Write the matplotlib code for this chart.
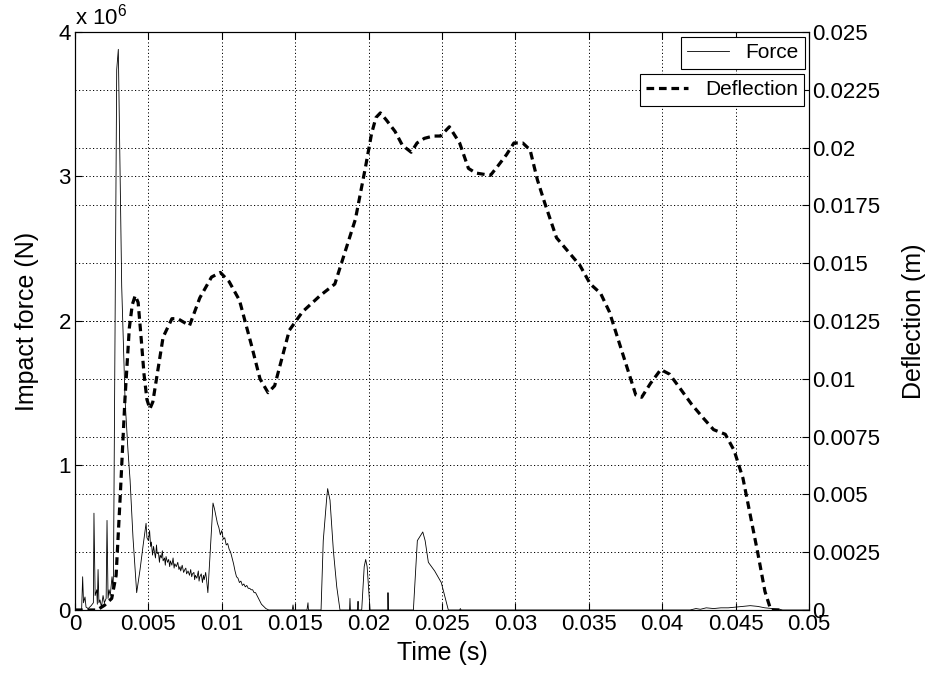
import matplotlib
matplotlib.use("Agg")
import matplotlib.pyplot as plt
from matplotlib.ticker import MultipleLocator, FuncFormatter

# ====================================================
# DATA
# ====================================================

# time (s) and impact force (x 1e6 N)
force_t = [
    0.0, 0.00045, 0.00052, 0.00058, 0.00068, 0.00075, 0.0009, 0.0011,
    0.00125, 0.00129, 0.00137, 0.00148, 0.00152, 0.00157, 0.00163, 0.0017,
    0.0018, 0.00191, 0.0020, 0.00212, 0.00218, 0.00225, 0.00232, 0.0024,
    0.00252, 0.00258, 0.00262, 0.00266, 0.00284, 0.00295, 0.00307, 0.00318,
    0.00341, 0.00361, 0.00375, 0.00395, 0.0042, 0.00443, 0.00463, 0.00484,
    0.0049, 0.0050, 0.00508, 0.00515, 0.0052, 0.00528, 0.00535, 0.0054,
    0.00548, 0.00555, 0.0056, 0.00568, 0.00575, 0.0058, 0.00588, 0.00595,
    0.0060, 0.0061, 0.00615, 0.0062, 0.0063, 0.00638, 0.00645, 0.0065,
    0.0066, 0.00668, 0.00675, 0.0068, 0.0069, 0.0070, 0.00708, 0.00715,
    0.0072, 0.0073, 0.0074, 0.00748, 0.00755, 0.0076, 0.0077, 0.0078,
    0.00788, 0.00795, 0.0080, 0.0081, 0.00815, 0.0082, 0.0083, 0.0084,
    0.00845, 0.0085, 0.0086, 0.00868, 0.00875, 0.0088, 0.0089, 0.00895,
    0.00905, 0.0094, 0.0095, 0.0096, 0.0097, 0.0098, 0.0099, 0.0100,
    0.0101, 0.0102, 0.0103, 0.0104, 0.0105, 0.0106, 0.0107, 0.0108,
    0.0109, 0.0110, 0.0111, 0.0112, 0.0113, 0.0114, 0.0115, 0.0116,
    0.0117, 0.0118, 0.0119, 0.0120, 0.0121, 0.0122, 0.0123, 0.0124,
    0.0125, 0.0126, 0.0127, 0.0128, 0.0129, 0.0130, 0.0132, 0.0148,
    0.01485, 0.0149, 0.0158, 0.01587, 0.0159, 0.01676, 0.01691, 0.01715,
    0.01721, 0.01737, 0.0176, 0.01783, 0.01805, 0.0187, 0.01873, 0.01876,
    0.01925, 0.01928, 0.0193, 0.01953, 0.0197, 0.0198, 0.0199, 0.0201,
    0.0213, 0.02132, 0.02135, 0.02305, 0.02332, 0.02369, 0.02385, 0.02407,
    0.0245, 0.02495, 0.02543, 0.0262, 0.02625, 0.0263, 0.0419, 0.0423,
    0.0426, 0.0430, 0.0435, 0.0440, 0.0445, 0.0450, 0.0455, 0.0460,
    0.0465, 0.0470, 0.0475, 0.0480, 0.0482, 0.050,
]

force_mn = [
    0.0, 0.0, 0.23, 0.05, 0.09, 0.02, 0.01, 0.03,
    0.05, 0.67, 0.10, 0.14, 0.04, 0.28, 0.05, 0.07,
    0.02, 0.10, 0.05, 0.08, 0.62, 0.08, 0.14, 0.10,
    0.23, 0.15, 0.25, 0.90, 3.74, 3.88, 3.00, 2.24,
    1.45, 1.10, 0.90, 0.50, 0.12, 0.28, 0.44, 0.60,
    0.50, 0.48, 0.55, 0.44, 0.47, 0.38, 0.44, 0.41,
    0.36, 0.45, 0.39, 0.40, 0.33, 0.38, 0.36, 0.41,
    0.34, 0.36, 0.31, 0.37, 0.33, 0.35, 0.30, 0.34,
    0.31, 0.36, 0.29, 0.32, 0.30, 0.33, 0.28, 0.30,
    0.27, 0.31, 0.26, 0.28, 0.29, 0.25, 0.27, 0.24,
    0.28, 0.23, 0.25, 0.26, 0.21, 0.24, 0.22, 0.27,
    0.20, 0.23, 0.25, 0.19, 0.24, 0.21, 0.26, 0.22,
    0.12, 0.74, 0.70, 0.65, 0.60, 0.57, 0.52, 0.55,
    0.49, 0.50, 0.45, 0.46, 0.42, 0.40, 0.36, 0.32,
    0.27, 0.23, 0.22, 0.19, 0.20, 0.17, 0.18, 0.16,
    0.17, 0.15, 0.15, 0.14, 0.14, 0.12, 0.12, 0.10,
    0.08, 0.06, 0.04, 0.03, 0.02, 0.01, 0.0, 0.0,
    0.035, 0.0, 0.0, 0.05, 0.0, 0.0, 0.48, 0.78,
    0.84, 0.76, 0.41, 0.16, 0.0, 0.0, 0.08, 0.0,
    0.0, 0.06, 0.0, 0.0, 0.30, 0.35, 0.30, 0.0,
    0.0, 0.12, 0.0, 0.0, 0.48, 0.54, 0.48, 0.33,
    0.27, 0.19, 0.0, 0.0, 0.01, 0.0, 0.0, 0.01,
    0.005, 0.015, 0.01, 0.015, 0.015, 0.02, 0.025, 0.03,
    0.025, 0.015, 0.01, 0.005, 0.0, 0.0,
]

# time (s) and deflection (m)
defl_t = [
    0.0, 0.0015, 0.0020, 0.0025, 0.0028, 0.00307, 0.0034, 0.0037,
    0.0039, 0.0041, 0.0043, 0.0045, 0.0047, 0.0049, 0.0051, 0.0053,
    0.0055, 0.0060, 0.0066, 0.0070, 0.0078, 0.0085, 0.0093, 0.0099,
    0.0105, 0.0112, 0.0120, 0.0126, 0.01315, 0.0136, 0.0141, 0.0146,
    0.0155, 0.0167, 0.0177, 0.0184, 0.0191, 0.0198, 0.0202, 0.0205,
    0.0208, 0.0212, 0.0218, 0.0223, 0.0229, 0.0233, 0.0238, 0.0244,
    0.0249, 0.0255, 0.0262, 0.0268, 0.0273, 0.0283, 0.0288, 0.0294,
    0.0299, 0.0305, 0.0310, 0.0315, 0.0320, 0.0328, 0.0336, 0.0344,
    0.0351, 0.0358, 0.0364, 0.0370, 0.0377, 0.0382, 0.0386, 0.0392,
    0.0399, 0.0405, 0.0412, 0.0420, 0.0428, 0.0435, 0.0443, 0.0449,
    0.0455, 0.0460, 0.0465, 0.0470, 0.0474, 0.0480,
]

defl_m = [
    0.0, 0.0, 0.0002, 0.0005, 0.0015, 0.0048, 0.0091, 0.0122,
    0.0132, 0.0136, 0.0133, 0.0118, 0.0102, 0.0091, 0.0087, 0.0090,
    0.0098, 0.0118, 0.0126, 0.0126, 0.0123, 0.0135, 0.0144, 0.0146,
    0.0142, 0.0134, 0.0115, 0.0100, 0.0094, 0.0097, 0.0109, 0.0121,
    0.0129, 0.0136, 0.0141, 0.0155, 0.0169, 0.0192, 0.0206, 0.0213,
    0.0215, 0.0212, 0.0207, 0.0201, 0.0198, 0.0202, 0.0204, 0.0205,
    0.0205, 0.0209, 0.0202, 0.0191, 0.0189, 0.0188, 0.0192, 0.0197,
    0.0202, 0.0202, 0.0199, 0.0186, 0.0176, 0.0161, 0.0155, 0.0149,
    0.0141, 0.0137, 0.0129, 0.0117, 0.0103, 0.0093, 0.0092, 0.0098,
    0.0104, 0.0102, 0.0096, 0.0089, 0.0083, 0.0078, 0.0076, 0.0069,
    0.0057, 0.0041, 0.0025, 0.0008, 0.0, 0.0,
]

# ====================================================
# STYLE
# ====================================================

plt.rcParams["font.family"] = ["Liberation Sans", "DejaVu Sans"]
plt.rcParams["font.size"] = 16
plt.rcParams["mathtext.fontset"] = "custom"
plt.rcParams["mathtext.rm"] = "Liberation Sans"

fig = plt.figure(figsize=(9.25, 6.75), dpi=100)
ax1 = fig.add_axes([0.0811, 0.0963, 0.7935, 0.8563])
ax2 = ax1.twinx()

# ====================================================
# CURVES
# ====================================================

force_line, = ax1.plot(
    force_t, [v * 1e6 for v in force_mn],
    color="black", linewidth=0.6, label="Force"
)

defl_line, = ax2.plot(
    defl_t, defl_m,
    color="black", linewidth=2.3, dashes=(2.4, 1.5), label="Deflection"
)

# ====================================================
# AXES
# ====================================================

fmt_g = FuncFormatter(lambda v, p: "%g" % v)

ax1.set_xlim(0, 0.05)
ax1.set_ylim(0, 4e6)
ax2.set_ylim(0, 0.025)

ax1.xaxis.set_major_locator(MultipleLocator(0.005))
ax1.xaxis.set_major_formatter(fmt_g)
ax1.yaxis.set_major_locator(MultipleLocator(1e6))
ax1.yaxis.set_major_formatter(FuncFormatter(lambda v, p: "%g" % (v / 1e6)))

ax2.yaxis.set_major_locator(MultipleLocator(0.0025))
ax2.yaxis.set_major_formatter(fmt_g)

ax1.tick_params(axis="both", direction="in", length=5, width=0.8,
                labelsize=16, top=True, pad=3)
ax2.tick_params(axis="y", direction="in", length=5, width=0.8,
                labelsize=16, pad=2)

ax1.text(0.0, 1.004, r"x 10$^{\mathrm{6}}$", transform=ax1.transAxes,
         ha="left", va="bottom", fontsize=16)

grid_kw = dict(color="black", linestyle=(0, (1.2, 2.4)), linewidth=0.7)
ax1.grid(True, **grid_kw)
ax2.yaxis.grid(True, **grid_kw)

for ax in (ax1, ax2):
    for s in ax.spines.values():
        s.set_linewidth(0.8)

ax1.set_xlabel("Time (s)", fontsize=18, labelpad=4)
ax1.set_ylabel("Impact force (N)", fontsize=18, labelpad=14)
ax2.set_ylabel("Deflection (m)", fontsize=18, labelpad=16)

# ====================================================
# LEGENDS
# ====================================================

leg_kw = dict(
    fancybox=False, framealpha=1, edgecolor="black",
    fontsize=15, borderaxespad=0, handlelength=2.0,
    borderpad=0.3, handletextpad=0.8
)

leg1 = ax2.legend(
    handles=[force_line], loc="upper right",
    bbox_to_anchor=(0.9946, 0.9913), **leg_kw
)
leg1.get_frame().set_linewidth(0.8)
ax2.add_artist(leg1)

leg2 = ax2.legend(
    handles=[defl_line], loc="upper right",
    bbox_to_anchor=(0.9932, 0.927), **leg_kw
)
leg2.get_frame().set_linewidth(0.8)

fig.savefig("out.png", dpi=100)
